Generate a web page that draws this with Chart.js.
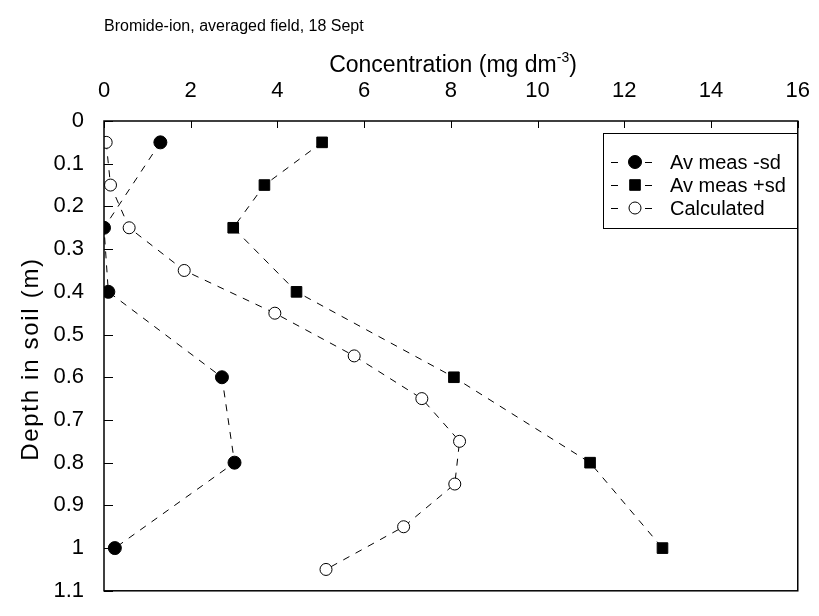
<!DOCTYPE html>
<html>
<head>
<meta charset="utf-8">
<script src="https://cdn.jsdelivr.net/npm/chart.js@4.4.1/dist/chart.umd.min.js"></script>
<style>
  html, body { margin: 0; padding: 0; background: #fff; }
  #wrap { width: 819px; height: 616px; }
</style>
</head>
<body>
<div id="wrap"><canvas id="profileChart" width="819" height="616"></canvas></div>
<script>
// Bromide profile, averaged field plot, 18 Sept
const concTicks = ['0', '2', '4', '6', '8', '10', '12', '14', '16'];
const depthTicks = ['0', '0.1', '0.2', '0.3', '0.4', '0.5', '0.6', '0.7', '0.8', '0.9', '1', '1.1'];

const measDepths = [0.05, 0.15, 0.25, 0.4, 0.6, 0.8, 1.0];
const measMinusSd = [1.3, null, 0, 0.1, 2.72, 3.01, 0.25];
const measPlusSd = [5.03, 3.7, 2.98, 4.44, 8.07, 11.21, 12.88];

const calcDepths = [0.05, 0.15, 0.25, 0.35, 0.45, 0.55, 0.65, 0.75, 0.85, 0.95, 1.05];
const calcConc = [0.05, 0.15, 0.58, 1.85, 3.94, 5.77, 7.33, 8.2, 8.09, 6.91, 5.12];

const seriesNames = ['Av meas -sd', 'Av meas +sd', 'Calculated'];

const FONT = "'Liberation Sans', Arial, sans-serif";

function toPoints(xs, ys) {
    const pts = [];
    for (let i = 0; i < xs.length; i++) {
        if (xs[i] === null) continue;
        pts.push({ x: xs[i], y: ys[i] });
    }
    return pts;
}

// frame, inward tick marks, titles and the boxed legend
const decorations = {
    id: 'decorations',
    afterDatasetsDraw(chart) {
        const ctx = chart.ctx;
        const a = chart.chartArea;
        const xs = chart.scales.x;
        const ys = chart.scales.y;

        ctx.save();
        ctx.strokeStyle = '#000';
        ctx.lineWidth = 1.5;
        ctx.strokeRect(a.left, a.top, a.right - a.left, a.bottom - a.top);

        ctx.lineWidth = 1;
        ctx.beginPath();
        xs.ticks.forEach(function (t) {
            const px = Math.round(xs.getPixelForValue(t.value)) + 0.5;
            ctx.moveTo(px, a.top);
            ctx.lineTo(px, a.top + 7);
        });
        ys.ticks.forEach(function (t) {
            const py = Math.round(ys.getPixelForValue(t.value)) + 0.5;
            ctx.moveTo(a.left, py);
            ctx.lineTo(a.left + 9, py);
        });
        ctx.stroke();

        // small heading
        ctx.fillStyle = '#000';
        ctx.textAlign = 'left';
        ctx.textBaseline = 'alphabetic';
        ctx.font = '16px ' + FONT;
        ctx.fillText('Bromide-ion, averaged field, 18 Sept', 104, 31);

        // x axis title with superscript
        const big = '23px ' + FONT;
        const sup = '14px ' + FONT;
        const partA = 'Concentration (mg dm';
        const partB = '-3';
        const partC = ')';
        ctx.font = big;
        const wA = ctx.measureText(partA).width;
        const wC = ctx.measureText(partC).width;
        ctx.font = sup;
        const wB = ctx.measureText(partB).width;
        let x0 = 453 - (wA + wB + wC) / 2;
        ctx.font = big;
        ctx.fillText(partA, x0, 72);
        ctx.font = sup;
        ctx.fillText(partB, x0 + wA, 62);
        ctx.font = big;
        ctx.fillText(partC, x0 + wA + wB, 72);

        // y axis title, slightly spaced out
        ctx.save();
        ctx.translate(38, 359);
        ctx.rotate(-Math.PI / 2);
        ctx.textAlign = 'center';
        ctx.font = '24px ' + FONT;
        ctx.letterSpacing = '1.7px';
        ctx.fillText('Depth in soil (m)', 0, 0);
        ctx.restore();

        // legend
        const lx = 603, ly = 133, lw = 194, lh = 95;
        ctx.fillStyle = '#fff';
        ctx.fillRect(lx, ly, lw, lh);
        ctx.strokeStyle = '#000';
        ctx.lineWidth = 1;
        ctx.strokeRect(lx + 0.5, ly + 0.5, lw, lh);

        chart.data.datasets.forEach(function (ds, i) {
            const ry = 162 + i * 23;
            ctx.strokeStyle = '#000';
            ctx.lineWidth = 1;
            ctx.beginPath();
            ctx.moveTo(611, ry + 0.5);
            ctx.lineTo(618, ry + 0.5);
            ctx.moveTo(645, ry + 0.5);
            ctx.lineTo(652, ry + 0.5);
            ctx.stroke();
            ctx.fillStyle = ds.pointBackgroundColor;
            ctx.strokeStyle = ds.pointBorderColor;
            ctx.lineWidth = ds.pointBorderWidth;
            Chart.helpers.drawPoint(ctx, {
                pointStyle: ds.pointStyle,
                radius: ds.pointRadius,
                borderWidth: ds.pointBorderWidth,
                rotation: 0
            }, 635, ry);
            ctx.fillStyle = '#000';
            ctx.textAlign = 'left';
            ctx.textBaseline = 'middle';
            ctx.font = '20px ' + FONT;
            ctx.fillText(ds.label, 670, ry + 1);
        });
        ctx.restore();
    }
};

function initChart() {
    const control = document.getElementById('profileChart');

    const lineStyle = {
        showLine: true,
        borderColor: '#000',
        borderWidth: 1,
        borderDash: [7, 7],
        pointBorderColor: '#000',
        pointHoverRadius: 0
    };

    new Chart(control, {
        type: 'scatter',
        data: {
            datasets: [
                Object.assign({}, lineStyle, {
                    label: seriesNames[0],
                    data: toPoints(measMinusSd, measDepths),
                    pointStyle: 'circle',
                    pointRadius: 6.5,
                    pointBorderWidth: 1,
                    pointBackgroundColor: '#000'
                }),
                Object.assign({}, lineStyle, {
                    label: seriesNames[1],
                    data: toPoints(measPlusSd, measDepths),
                    pointStyle: 'rect',
                    pointRadius: 7.5,
                    pointBorderWidth: 1,
                    pointBackgroundColor: '#000'
                }),
                Object.assign({}, lineStyle, {
                    label: seriesNames[2],
                    data: toPoints(calcConc, calcDepths),
                    pointStyle: 'circle',
                    pointRadius: 6,
                    pointBorderWidth: 1,
                    pointBackgroundColor: '#fff'
                })
            ]
        },
        options: {
            responsive: false,
            animation: false,
            events: [],
            layout: {
                padding: { top: 0, left: 0, right: 14, bottom: 11 }
            },
            scales: {
                x: {
                    type: 'linear',
                    position: 'top',
                    min: 0,
                    max: 16,
                    grid: { display: false },
                    border: { display: false },
                    ticks: {
                        stepSize: 2,
                        padding: 9,
                        color: '#000',
                        font: { family: FONT, size: 22 },
                        maxRotation: 0,
                        callback: function (value) {
                            return concTicks[Math.round(value / 2)];
                        }
                    },
                    afterFit: function (scale) {
                        scale.height = 121;
                    }
                },
                y: {
                    type: 'linear',
                    reverse: true,
                    min: 0,
                    max: 1.1,
                    grid: { display: false },
                    border: { display: false },
                    ticks: {
                        stepSize: 0.1,
                        padding: 12,
                        color: '#000',
                        font: { family: FONT, size: 22 },
                        callback: function (value) {
                            return depthTicks[Math.round(value * 10)];
                        }
                    },
                    afterFit: function (scale) {
                        scale.width = 104;
                    }
                }
            },
            plugins: {
                legend: { display: false },
                tooltip: { enabled: false }
            }
        },
        plugins: [decorations]
    });
}

initChart();
</script>
</body>
</html>
